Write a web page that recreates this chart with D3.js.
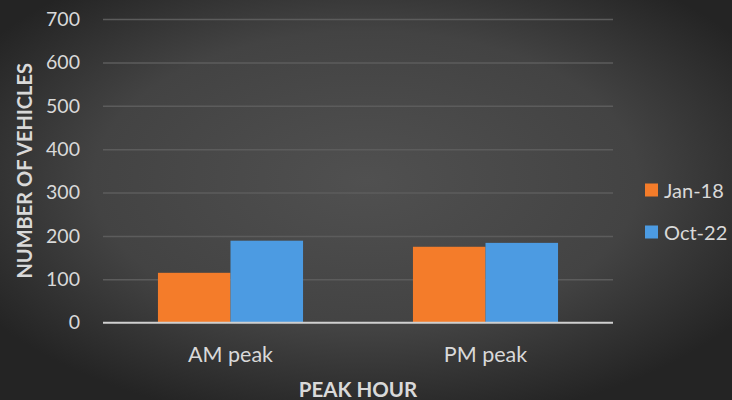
<!DOCTYPE html>
<html><head><meta charset="utf-8">
<script src="https://cdn.jsdelivr.net/npm/d3@7"></script>
<style>html,body{margin:0;padding:0;background:#2a2a2a;}svg{display:block;}</style>
</head><body>
<script>
const categories = ["AM peak", "PM peak"];
const seriesNames = ["Jan-18", "Oct-22"];
const jan18 = [115, 175];
const oct22 = [189, 184];
const yTicks = [0, 100, 200, 300, 400, 500, 600, 700];
const colors = ["#F47C2A", "#4C9BE2"];

const W = 732, H = 400;
const svg = d3.select("body").append("svg").attr("width", W).attr("height", H);
const defs = svg.append("defs");
const rg = defs.append("radialGradient").attr("id", "bg")
  .attr("cx", "50%").attr("cy", "45%").attr("r", "62%");
rg.append("stop").attr("offset", "0%").attr("stop-color", "#505050");
rg.append("stop").attr("offset", "60%").attr("stop-color", "#434343");
rg.append("stop").attr("offset", "100%").attr("stop-color", "#242424");
svg.append("rect").attr("width", W).attr("height", H).attr("fill", "url(#bg)");

const plot = {l: 103, r: 613, t: 19, b: 322.7};
const x0 = d3.scaleBand().domain(categories).range([plot.l, plot.r]).paddingInner(0.431).paddingOuter(0.2155);
const x1 = d3.scaleBand().domain(seriesNames).range([0, x0.bandwidth()]);
const y = d3.scaleLinear().domain([0, 700]).range([plot.b, plot.t]);

const font = "Lato, 'Open Sans', sans-serif";
const textCol = "#d9d9d9";

// gridlines via axis
const grid = svg.append("g").attr("transform", `translate(${plot.l},0)`)
  .call(d3.axisLeft(y).tickValues(yTicks.slice(1)).tickSize(-(plot.r - plot.l)).tickFormat(""));
grid.select(".domain").remove();
grid.selectAll("line").attr("stroke", "#5c5c5c").attr("stroke-width", 1.5);

// y tick labels
const ya = svg.append("g").attr("transform", `translate(${plot.l},0)`)
  .call(d3.axisLeft(y).tickValues(yTicks).tickSize(0).tickPadding(23));
ya.select(".domain").remove();
ya.selectAll("text").attr("fill", textCol).attr("font-family", font).attr("font-size", 19.5);

// bars
const data = categories.map((c, i) => ({cat: c, vals: [jan18[i], oct22[i]]}));
const groups = svg.append("g").selectAll("g").data(data).join("g")
  .attr("transform", d => `translate(${x0(d.cat)},0)`);
groups.selectAll("rect").data(d => d.vals.map((v, j) => ({s: seriesNames[j], v, j})))
  .join("rect")
  .attr("x", d => x1(d.s)).attr("width", x1.bandwidth())
  .attr("y", d => y(d.v)).attr("height", d => y(0) - y(d.v))
  .attr("fill", d => colors[d.j]);

// baseline
svg.append("line").attr("x1", plot.l).attr("x2", plot.r).attr("y1", y(0)).attr("y2", y(0))
  .attr("stroke", "#d0d0d0").attr("stroke-width", 2);

// x axis labels
const xa = svg.append("g").attr("transform", `translate(0,${plot.b})`)
  .call(d3.axisBottom(x0).tickSize(0).tickPadding(24));
xa.select(".domain").remove();
xa.selectAll("text").attr("fill", textCol).attr("font-family", font).attr("font-size", 21.5);

// axis titles
svg.append("text").attr("x", (plot.l + plot.r) / 2).attr("y", 396.5).attr("text-anchor", "middle")
  .attr("fill", textCol).attr("font-family", font).attr("font-weight", "bold").attr("font-size", 20.5)
  .text("PEAK HOUR");
svg.append("text").attr("transform", `translate(32,${(plot.t + plot.b) / 2}) rotate(-90)`)
  .attr("text-anchor", "middle")
  .attr("fill", textCol).attr("font-family", font).attr("font-weight", "bold").attr("font-size", 20)
  .text("NUMBER OF VEHICLES");

// legend
const leg = svg.append("g").selectAll("g").data(seriesNames).join("g")
  .attr("transform", (d, i) => `translate(645,${190 + i * 42})`);
leg.append("rect").attr("x", 0).attr("y", -6.5).attr("width", 13).attr("height", 13)
  .attr("fill", (d, i) => colors[i]);
leg.append("text").attr("x", 19).attr("y", 7.5).attr("fill", textCol)
  .attr("font-family", font).attr("font-size", 20).text(d => d);
</script>
</body></html>
